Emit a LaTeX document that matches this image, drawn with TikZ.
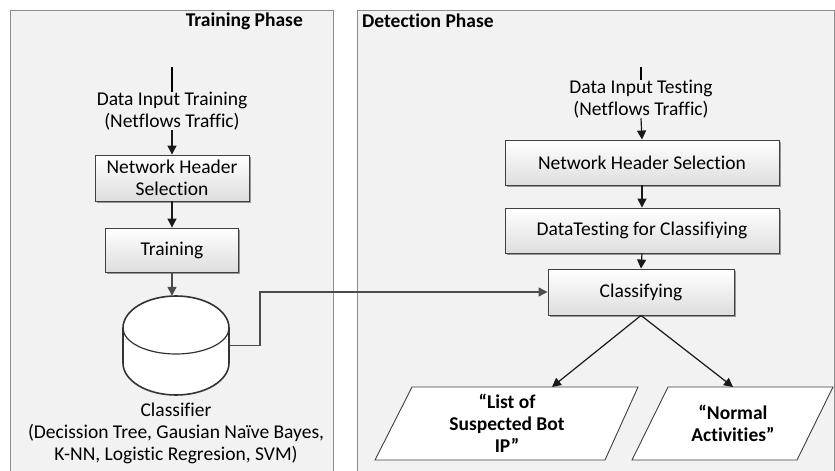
\documentclass[tikz,border=0pt]{standalone}
\usepackage{fontspec}
\setmainfont[Ligatures=NoCommon]{Carlito}
\usetikzlibrary{arrows.meta,shadows,calc}

\begin{document}
\begin{tikzpicture}[x=1pt,y=-1pt,
  font=\fontsize{19.5}{22}\selectfont,
  panel/.style={draw=black!45, line width=0.8pt, fill=black!5},
  stepbox/.style={draw=black!75, line width=0.9pt, top color=white, bottom color=black!13,
    drop shadow={shadow xshift=1.6pt, shadow yshift=-1.6pt, fill=black!55, opacity=0.7},
    align=center, inner sep=2pt, text=black},
  flow/.style={-{Triangle[length=9pt,width=9pt]}, line width=1.2pt, draw=black!90},
  softflow/.style={flow, draw=black!70},
  txt/.style={align=center, inner sep=0pt, text=black},
  outbox/.style={draw=black!75, line width=0.9pt, fill=white},
]
\useasboundingbox (0,0) rectangle (835,471);

% phase panels
\path[panel] (10,10) rectangle (333,490);
\path[panel] (357,10) rectangle (834,490);
\node[txt, anchor=east, font=\fontsize{19.5}{22}\selectfont\bfseries] (ttl1) at (303,21) {Training Phase};
\node[txt, anchor=west, font=\fontsize{19.5}{22}\selectfont\bfseries] (ttl2) at (362,21) {Detection Phase};

% ---- training phase ----
\coordinate (in1top) at (172,67);
\node[txt] (in1) at (172,111) {Data Input Training\\(Netflows Traffic)};
\node[stepbox, minimum width=154pt, minimum height=46pt] (nhs1) at (172,178) {Network Header\\Selection};
\node[stepbox, minimum width=133pt, minimum height=44pt] (train) at (172,250) {Training};

% classifier store (cylinder)
\node[minimum width=106pt, minimum height=99pt, inner sep=0pt] (clf) at (176,345.5) {};
\draw[line width=1.6pt, draw=black!80, fill=white]
  (123,328) -- (123,363) arc[start angle=180, end angle=0, x radius=53, y radius=32]
  -- (229,328) arc[start angle=0, end angle=-180, x radius=53, y radius=32] -- cycle;
\draw[line width=1.2pt, draw=black!80] (123,328) arc[start angle=180, end angle=0, x radius=53, y radius=26];
\node[txt] (clftxt) at (176,433) {Classifier\\(Decission Tree, Gausian Naïve Bayes,\\K-NN, Logistic Regresion, SVM)};

\draw[line width=1.1pt] (in1top) -- (in1.north);
\draw[flow] (in1.south) -- (nhs1.north);
\draw[flow] (nhs1.south) -- (train.north);
\draw[softflow] (train.south) -- (train.south |- clf.north);

% ---- detection phase ----
\coordinate (in2top) at (641,67);
\node[txt] (in2) at (641,99) {Data Input Testing\\(Netflows Traffic)};
\node[stepbox, minimum width=274pt, minimum height=45pt] (nhs2) at (642,162.5) {Network Header Selection};
\node[stepbox, minimum width=274pt, minimum height=45pt] (dtc) at (642,230.5) {DataTesting for Classifiying};
\node[stepbox, minimum width=186pt, minimum height=46pt] (cls) at (641,292) {Classifying};

% output parallelograms
\draw[outbox] (412,387) -- (638,387) -- (605,460) -- (375,460) -- cycle;
\draw[outbox] (668,387) -- (833,387) -- (797,460) -- (632,460) -- cycle;
\node[txt, font=\fontsize{19.5}{22}\selectfont\bfseries] (out1) at (507,423) {“List of\\Suspected Bot\\IP”};
\node[txt, font=\fontsize{19.5}{22}\selectfont\bfseries] (out2) at (733,423) {“Normal\\Activities”};
\coordinate (out1in) at (552,387);
\coordinate (out2in) at (733,387);

\draw[line width=1.1pt] (in2top) -- (in2.north);
\draw[flow] (in2.south) -- (nhs2.north);
\draw[flow] (nhs2.south) -- (dtc.north);
\draw[flow] (dtc.south) -- (cls.north);
\draw[flow] (cls.south) -- (out1in);
\draw[flow] (cls.south) -- (out2in);

% trained classifier feeds the detection step
\draw[softflow] (clf.east) -- (260,345.5) -- (260,292) -- (cls.west);
\end{tikzpicture}
\end{document}
